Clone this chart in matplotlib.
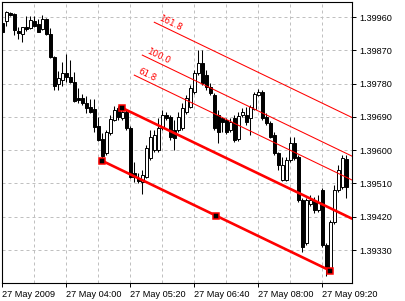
import matplotlib
matplotlib.use("Agg")
import matplotlib.pyplot as plt
import numpy as np

# EURUSD-like M5 bars, prices stored as points above 1.39000
base = 1.39
opens = [945, 949, 972, 968, 922, 914, 933, 930, 949, 941, 928, 955, 914, 852, 779, 790,
         809, 798, 784, 741, 741, 727, 717, 711, 665, 630, 592, 646, 682, 714, 687, 703,
         660, 538, 525, 514, 527, 579, 600, 600, 660, 695, 690, 654, 654, 660, 703, 717,
         757, 809, 836, 803, 771, 749, 695, 687, 682, 654, 687, 630, 695, 695, 687, 711,
         749, 757, 690, 673, 641, 592, 519, 519, 573, 619, 581, 465, 349, 454, 462, 438,
         492, 343, 281, 406, 492, 500, 576]
highs = [946, 976, 974, 971, 933, 933, 963, 963, 963, 955, 965, 957, 930, 855, 814, 838,
         860, 844, 811, 768, 752, 746, 738, 738, 690, 646, 654, 695, 719, 719, 714, 709,
         665, 568, 538, 546, 614, 654, 654, 687, 709, 703, 695, 682, 703, 727, 749, 776,
         817, 871, 871, 817, 782, 755, 709, 690, 687, 687, 695, 703, 714, 717, 722, 757,
         765, 763, 700, 679, 649, 595, 581, 581, 636, 636, 587, 471, 471, 479, 473, 479,
         498, 349, 411, 506, 560, 587, 587]
lows = [917, 936, 963, 911, 900, 893, 922, 928, 933, 919, 925, 911, 849, 763, 763, 773,
        784, 782, 730, 727, 722, 700, 700, 649, 625, 571, 587, 641, 679, 682, 682, 654,
        525, 514, 511, 481, 525, 573, 595, 595, 654, 682, 627, 600, 649, 654, 698, 714,
        752, 803, 776, 763, 749, 654, 619, 649, 644, 649, 622, 625, 690, 668, 641, 709,
        746, 682, 668, 633, 587, 546, 517, 517, 568, 573, 460, 325, 343, 449, 430, 433,
        338, 260, 273, 400, 487, 495, 471]
closes = [919, 974, 965, 925, 917, 932, 928, 952, 936, 920, 955, 914, 852, 773, 795, 809,
          798, 784, 733, 736, 727, 714, 703, 663, 627, 584, 649, 684, 709, 690, 703, 660,
          527, 527, 517, 533, 606, 636, 641, 660, 695, 687, 636, 633, 690, 714, 741, 768,
          809, 836, 782, 771, 755, 660, 649, 676, 649, 676, 627, 692, 703, 676, 717, 752,
          757, 687, 673, 636, 592, 560, 560, 573, 619, 579, 465, 338, 465, 465, 438, 460,
          343, 284, 406, 492, 546, 579, 500]

time_ticks = [0, 16, 32, 48, 64, 80]
time_labels = ["27 May 2009", "27 May 04:00", "27 May 05:20",
               "27 May 06:40", "27 May 08:00", "27 May 09:20"]
price_ticks = [1.39330, 1.39420, 1.39510, 1.39600, 1.39690, 1.39780, 1.39870, 1.39960]

# Fibonacci channel anchors: (bar, points)
chan_start = (25, 571)
chan_end = (82, 274)
chan_third = (30, 714)
fib_levels = [0.618, 1.0, 1.618]
fib_names = ["61.8", "100.0", "161.8"]
fib_start_bar = [33, 35, 38]

o = base + np.array(opens) / 1e5
h = base + np.array(highs) / 1e5
l = base + np.array(lows) / 1e5
c = base + np.array(closes) / 1e5
x = np.arange(len(o))

fig = plt.figure(figsize=(4.05, 3.01), dpi=100)
ax = fig.add_axes([2 / 405, 1 - 283 / 301, 350.3 / 405, 281 / 301])
ax.set_xlim(-0.075, 87.5)
ax.set_ylim(1.392408, 1.400006)

# grid
for gx in range(8, 88, 8):
    ax.axvline(gx, color="#c0c0c0", lw=0.72, dashes=(3, 3), zorder=0)
for gy in price_ticks:
    ax.axhline(gy, color="#c0c0c0", lw=0.72, dashes=(3, 3), zorder=0)

# candles
ax.vlines(x, l, h, color="black", lw=0.75, zorder=2)
up = c >= o
bottom = np.minimum(o, c)
height = np.maximum(np.abs(c - o), 0.000012)
ax.bar(x, height, bottom=bottom, width=0.62, color=np.where(up, "white", "black"),
       edgecolor="black", linewidth=0.7, zorder=3)

# channel
x1, p1 = chan_start[0], base + chan_start[1] / 1e5
x2, p2 = chan_end[0], base + chan_end[1] / 1e5
x3, p3 = chan_third[0], base + chan_third[1] / 1e5
slope = (p2 - p1) / (x2 - x1)
width = p3 - (p1 + slope * (x3 - x1))
xr = 87.5

ax.plot([x1, x2], [p1, p2], color="red", lw=1.9, zorder=4, solid_capstyle="butt")
ax.plot([x3, xr], [p3, p3 + slope * (xr - x3)], color="red", lw=1.9, zorder=4,
        solid_capstyle="butt")
for px_, py_ in [(x1, p1), ((x1 + x2) / 2, (p1 + p2) / 2), (x2, p2), (x3, p3)]:
    ax.plot(px_, py_, "s", ms=5, mfc="black", mec="red", mew=1.1, zorder=5)

# angle of the channel on screen
fig.canvas.draw()
a = ax.transData.transform([[0, p1], [10, p1 + slope * 10]])
angle = np.degrees(np.arctan2(a[1, 1] - a[0, 1], a[1, 0] - a[0, 0]))

for lev, name, xs in zip(fib_levels, fib_names, fib_start_bar):
    ys = p3 + slope * (xs - x3) + lev * width
    ax.plot([xs, xr], [ys, ys + slope * (xr - xs)], color="red", lw=0.75, zorder=4)
    ax.text(xs + 0.6, ys + slope * 0.6 + 0.00005, name, color="red", fontsize=6.3,
            rotation=angle, rotation_mode="anchor", ha="left", va="bottom", zorder=6)

ax.set_xticks(time_ticks)
ax.set_xticklabels(time_labels, ha="left", family="Liberation Sans")
ax.set_yticks(price_ticks)
ax.set_yticklabels(["%.5f" % t for t in price_ticks], family="Liberation Sans")
ax.yaxis.tick_right()
ax.tick_params(axis="both", length=3, width=0.7, labelsize=6.6, colors="black", pad=2)
for s in ax.spines.values():
    s.set_linewidth(0.8)
    s.set_color("black")

fig.savefig("out.png", dpi=100)
